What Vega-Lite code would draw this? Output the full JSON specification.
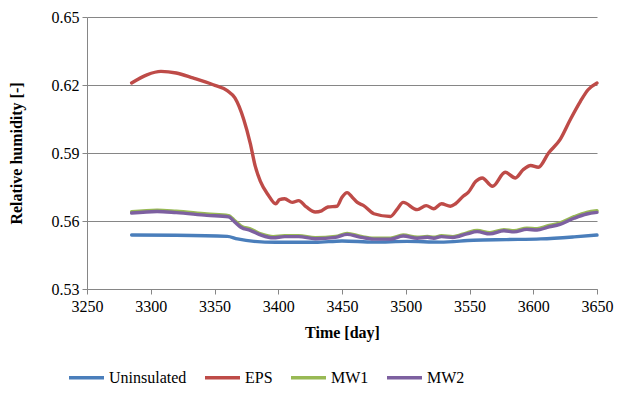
{
  "$schema": "https://vega.github.io/schema/vega-lite/v6.json",
  "width": 510,
  "height": 272,
  "autosize": "none",
  "padding": {"left": 87, "top": 17, "right": 21, "bottom": 116},
  "background": "white",
  "config": {
    "view": {"stroke": null},
    "font": "Liberation Serif",
    "axis": {"labelFont": "Liberation Serif", "titleFont": "Liberation Serif", "labelColor": "black", "titleColor": "black"},
    "legend": {"labelFont": "Liberation Serif"}
  },
  "data": {"values": [
    {"s":"Uninsulated","d":3285,"v":0.5538},{"s":"Uninsulated","d":3320,"v":0.5537},{"s":"Uninsulated","d":3360,"v":0.5532},{"s":"Uninsulated","d":3368,"v":0.5521},{"s":"Uninsulated","d":3381,"v":0.5510},{"s":"Uninsulated","d":3398,"v":0.5506},{"s":"Uninsulated","d":3429,"v":0.5506},{"s":"Uninsulated","d":3450,"v":0.5512},{"s":"Uninsulated","d":3475,"v":0.5507},{"s":"Uninsulated","d":3501,"v":0.5510},{"s":"Uninsulated","d":3527,"v":0.5507},{"s":"Uninsulated","d":3553,"v":0.5515},{"s":"Uninsulated","d":3579,"v":0.5518},{"s":"Uninsulated","d":3606,"v":0.5521},{"s":"Uninsulated","d":3632,"v":0.5530},{"s":"Uninsulated","d":3650,"v":0.5538},
    {"s":"EPS","d":3285,"v":0.6209},{"s":"EPS","d":3297,"v":0.6245},{"s":"EPS","d":3308,"v":0.6260},{"s":"EPS","d":3320,"v":0.6253},{"s":"EPS","d":3333,"v":0.6231},{"s":"EPS","d":3349,"v":0.6201},{"s":"EPS","d":3360,"v":0.6175},{"s":"EPS","d":3366,"v":0.6143},{"s":"EPS","d":3373,"v":0.6047},{"s":"EPS","d":3378,"v":0.5944},{"s":"EPS","d":3382,"v":0.5841},{"s":"EPS","d":3386,"v":0.5775},{"s":"EPS","d":3392,"v":0.5716},{"s":"EPS","d":3398,"v":0.5676},{"s":"EPS","d":3401,"v":0.5694},{"s":"EPS","d":3405,"v":0.5698},{"s":"EPS","d":3411,"v":0.5682},{"s":"EPS","d":3416,"v":0.5690},{"s":"EPS","d":3422,"v":0.5662},{"s":"EPS","d":3429,"v":0.5640},{"s":"EPS","d":3434,"v":0.5645},{"s":"EPS","d":3439,"v":0.5662},{"s":"EPS","d":3446,"v":0.5665},{"s":"EPS","d":3450,"v":0.5705},{"s":"EPS","d":3454,"v":0.5725},{"s":"EPS","d":3458,"v":0.5705},{"s":"EPS","d":3462,"v":0.5682},{"s":"EPS","d":3467,"v":0.5668},{"s":"EPS","d":3475,"v":0.5632},{"s":"EPS","d":3488,"v":0.5620},{"s":"EPS","d":3493,"v":0.5650},{"s":"EPS","d":3498,"v":0.5682},{"s":"EPS","d":3509,"v":0.5650},{"s":"EPS","d":3516,"v":0.5668},{"s":"EPS","d":3522,"v":0.5654},{"s":"EPS","d":3528,"v":0.5676},{"s":"EPS","d":3535,"v":0.5665},{"s":"EPS","d":3539,"v":0.5676},{"s":"EPS","d":3545,"v":0.5709},{"s":"EPS","d":3549,"v":0.5726},{"s":"EPS","d":3555,"v":0.5775},{"s":"EPS","d":3560,"v":0.5790},{"s":"EPS","d":3568,"v":0.5753},{"s":"EPS","d":3578,"v":0.5815},{"s":"EPS","d":3586,"v":0.5790},{"s":"EPS","d":3592,"v":0.5826},{"s":"EPS","d":3598,"v":0.5845},{"s":"EPS","d":3604,"v":0.5837},{"s":"EPS","d":3612,"v":0.5900},{"s":"EPS","d":3621,"v":0.5959},{"s":"EPS","d":3629,"v":0.6047},{"s":"EPS","d":3637,"v":0.6128},{"s":"EPS","d":3643,"v":0.6179},{"s":"EPS","d":3650,"v":0.6209},
    {"s":"MW1","d":3285,"v":0.5641},{"s":"MW1","d":3305,"v":0.5648},{"s":"MW1","d":3320,"v":0.5643},{"s":"MW1","d":3344,"v":0.5631},{"s":"MW1","d":3361,"v":0.5624},{"s":"MW1","d":3366,"v":0.5601},{"s":"MW1","d":3371,"v":0.5577},{"s":"MW1","d":3378,"v":0.5565},{"s":"MW1","d":3387,"v":0.5542},{"s":"MW1","d":3396,"v":0.5531},{"s":"MW1","d":3405,"v":0.5535},{"s":"MW1","d":3416,"v":0.5535},{"s":"MW1","d":3429,"v":0.5526},{"s":"MW1","d":3445,"v":0.5532},{"s":"MW1","d":3454,"v":0.5545},{"s":"MW1","d":3464,"v":0.5533},{"s":"MW1","d":3475,"v":0.5524},{"s":"MW1","d":3488,"v":0.5524},{"s":"MW1","d":3498,"v":0.5538},{"s":"MW1","d":3509,"v":0.5528},{"s":"MW1","d":3517,"v":0.5532},{"s":"MW1","d":3522,"v":0.5528},{"s":"MW1","d":3528,"v":0.5535},{"s":"MW1","d":3537,"v":0.5531},{"s":"MW1","d":3548,"v":0.5548},{"s":"MW1","d":3556,"v":0.5558},{"s":"MW1","d":3566,"v":0.5548},{"s":"MW1","d":3577,"v":0.5562},{"s":"MW1","d":3585,"v":0.5557},{"s":"MW1","d":3595,"v":0.5568},{"s":"MW1","d":3603,"v":0.5566},{"s":"MW1","d":3611,"v":0.5578},{"s":"MW1","d":3621,"v":0.5592},{"s":"MW1","d":3632,"v":0.5619},{"s":"MW1","d":3642,"v":0.5638},{"s":"MW1","d":3650,"v":0.5645},
    {"s":"MW2","d":3285,"v":0.5635},{"s":"MW2","d":3305,"v":0.5642},{"s":"MW2","d":3320,"v":0.5637},{"s":"MW2","d":3344,"v":0.5625},{"s":"MW2","d":3361,"v":0.5618},{"s":"MW2","d":3366,"v":0.5595},{"s":"MW2","d":3371,"v":0.5571},{"s":"MW2","d":3378,"v":0.5559},{"s":"MW2","d":3387,"v":0.5537},{"s":"MW2","d":3396,"v":0.5526},{"s":"MW2","d":3405,"v":0.5531},{"s":"MW2","d":3416,"v":0.5531},{"s":"MW2","d":3429,"v":0.5522},{"s":"MW2","d":3445,"v":0.5528},{"s":"MW2","d":3454,"v":0.5541},{"s":"MW2","d":3464,"v":0.5529},{"s":"MW2","d":3475,"v":0.5520},{"s":"MW2","d":3488,"v":0.5520},{"s":"MW2","d":3498,"v":0.5534},{"s":"MW2","d":3509,"v":0.5524},{"s":"MW2","d":3517,"v":0.5528},{"s":"MW2","d":3522,"v":0.5524},{"s":"MW2","d":3528,"v":0.5531},{"s":"MW2","d":3537,"v":0.5527},{"s":"MW2","d":3548,"v":0.5543},{"s":"MW2","d":3556,"v":0.5553},{"s":"MW2","d":3566,"v":0.5543},{"s":"MW2","d":3577,"v":0.5557},{"s":"MW2","d":3585,"v":0.5552},{"s":"MW2","d":3595,"v":0.5563},{"s":"MW2","d":3603,"v":0.5560},{"s":"MW2","d":3611,"v":0.5572},{"s":"MW2","d":3621,"v":0.5585},{"s":"MW2","d":3632,"v":0.5612},{"s":"MW2","d":3642,"v":0.5631},{"s":"MW2","d":3650,"v":0.5638}
  ]},
  "mark": {"type": "line", "strokeWidth": 3.4, "interpolate": "monotone", "strokeCap": "round"},
  "encoding": {
    "x": {
      "field": "d", "type": "quantitative",
      "scale": {"domain": [3250, 3650], "nice": false, "zero": false},
      "axis": {
        "title": "Time [day]", "values": [3250,3300,3350,3400,3450,3500,3550,3600,3650],
        "format": "d", "grid": false, "domainColor": "#868686", "tickColor": "#868686",
        "tickSize": 5, "labelFontSize": 16, "labelPadding": 4, "titleFontSize": 16,
        "titleFontWeight": "bold", "titlePadding": 10, "labelFlush": false,
        "labelFont": "Liberation Serif", "titleFont": "Liberation Serif"
      }
    },
    "y": {
      "field": "v", "type": "quantitative",
      "scale": {"domain": [0.53, 0.65], "nice": false, "zero": false},
      "axis": {
        "title": "Relative humidity [-]", "values": [0.53,0.56,0.59,0.62,0.65],
        "format": ".2f", "grid": true, "gridColor": "#868686", "gridWidth": 1,
        "domainColor": "#868686", "tickColor": "#868686", "tickSize": 5,
        "labelFontSize": 16, "labelPadding": 3, "titleFontSize": 16,
        "titleFontWeight": "bold", "titlePadding": 27,
        "labelFont": "Liberation Serif", "titleFont": "Liberation Serif"
      }
    },
    "color": {
      "field": "s", "type": "nominal",
      "scale": {"domain": ["Uninsulated","EPS","MW1","MW2"], "range": ["#4A7EBB","#BE4B48","#98B954","#7D60A0"]},
      "legend": {
        "title": null, "orient": "none", "legendX": -20, "legendY": 341, "direction": "horizontal",
        "symbolType": "stroke", "symbolSize": 1225, "symbolStrokeWidth": 3.5,
        "labelFontSize": 16, "labelColor": "black", "labelFont": "Liberation Serif",
        "columnPadding": 11, "labelOffset": 3
      }
    },
    "order": {"field": "d", "type": "quantitative"}
  }
}
